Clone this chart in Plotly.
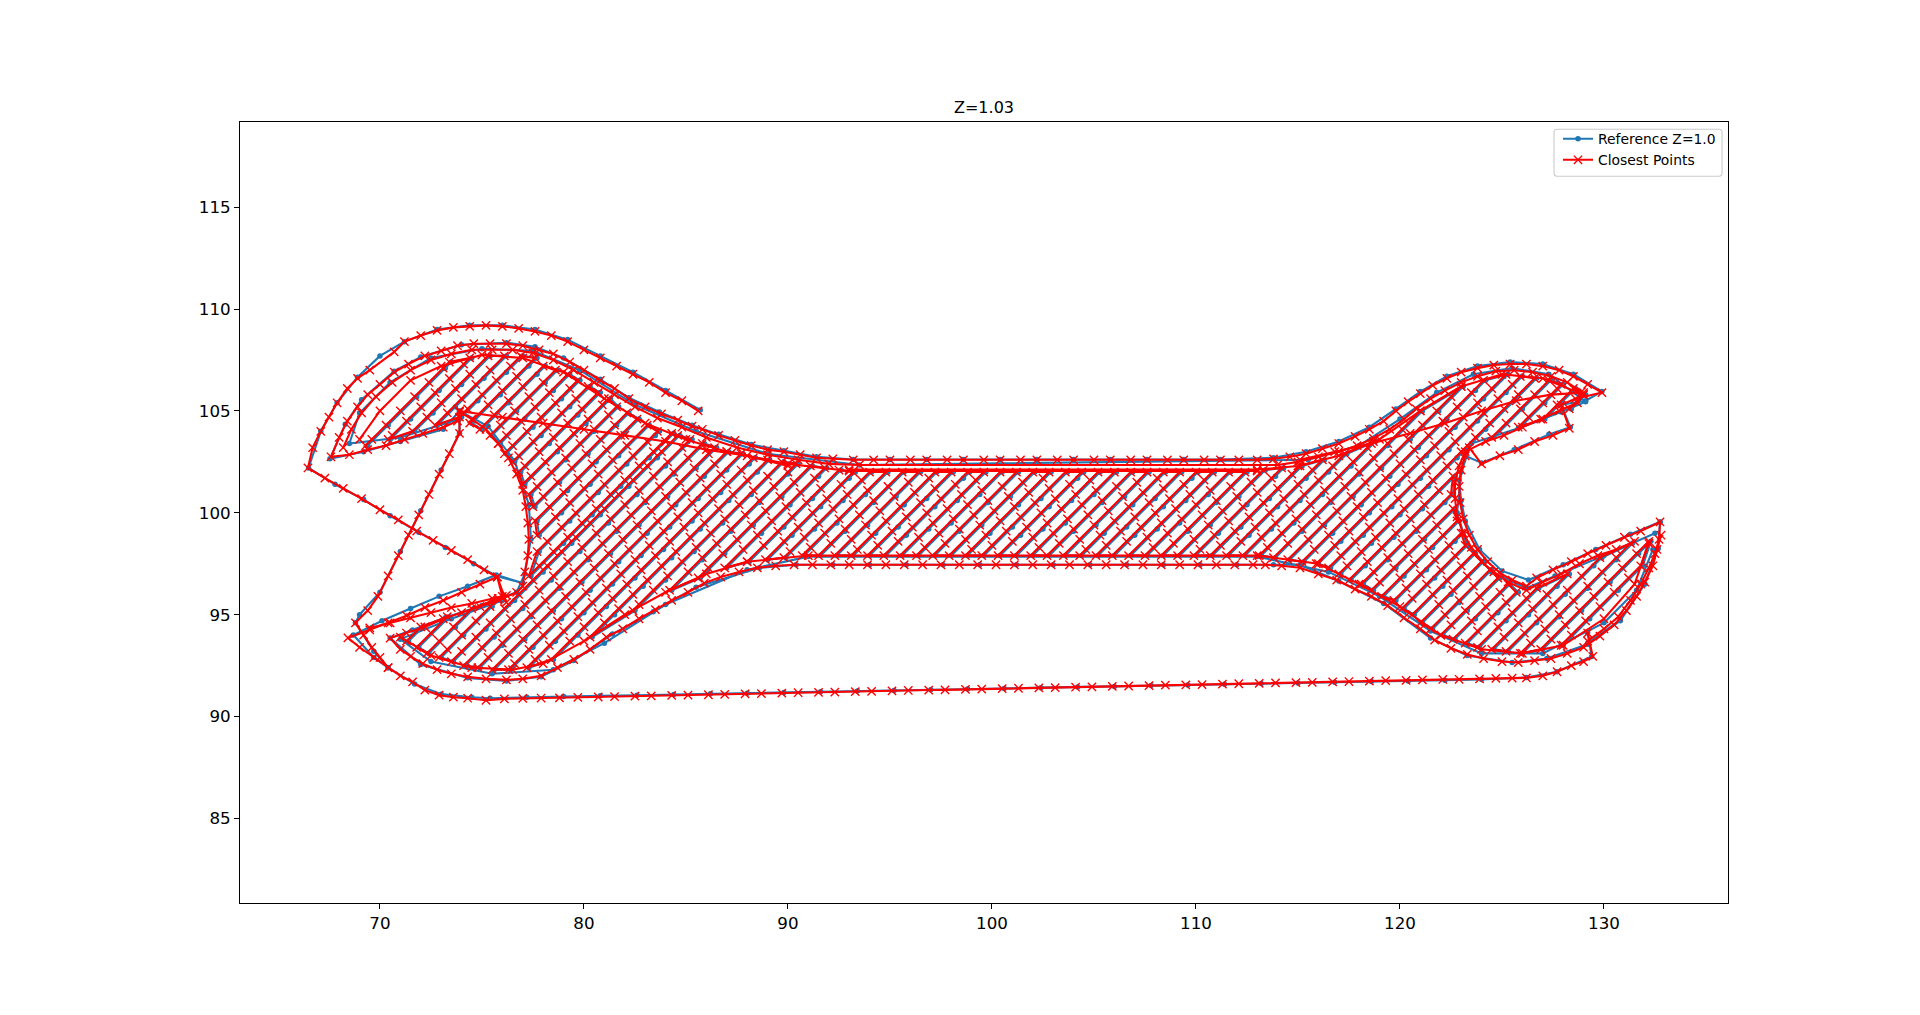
import plotly.graph_objects as go

TITLE = "Z=1.03"
LEGEND_REF = "Reference Z=1.0"
LEGEND_CLOSE = "Closest Points"
X_TICKS = [70, 80, 90, 100, 110, 120, 130]
Y_TICKS = [85, 90, 95, 100, 105, 110, 115]

# ---------- Closest points: contours, each section ----------
close_outer_x = [85.6,84.8,84,83.2,82.4,81.6,80.8,80,79.2,78.4,77.6,76.8,76,75.2,74.4,73.6,72.8,72,71.2,70.7,69.5,68.9,68.4,67.9,67.5,67.1,66.7,66.47,
 67.3,68.2,69.1,70,70.9,71.8,72.6,73.5,74.3,75.1,75.75,76,76.2,75.75,74.9,74,73.1,72.2,71.3,70.4,69.5,68.43,69,69.7,70.4,71,71.6,72.2,72.9,73.6,74.3,75.2,
 76.1,77,77.9,78.8,79.7,80.7,81.5,82.5,83.3,84.3,85.1,86.1,86.9,87.9,88.7,89.7,90.5,91.5,92.3,93.3,94.1,95.1,95.9,96.9,97.7,98.7,99.5,100.5,101.3,102.3,103.1,104.1,104.9,105.9,106.7,107.7,108.5,109.5,110.3,111.3,112.1,113.1,113.9,114.9,115.7,116.7,117.5,118.5,119.3,120.3,121.1,122.1,122.9,123.9,124.7,125.5,126.2,
 127,127.7,128.4,129,129.45,129.2]
close_outer_y = [105,105.5,105.9,106.4,106.8,107.2,107.6,108,108.4,108.7,108.9,109.05,109.15,109.2,109.15,109.1,108.95,108.7,108.4,107.9,107,106.6,106.1,105.4,104.7,104,103.2,102.2,
 101.7,101.2,100.7,100.15,99.65,99.1,98.65,98.15,97.7,97.2,96.85,95.9,95.6,96.85,96.5,96.1,95.7,95.35,94.95,94.6,94.25,93.86,93.4,92.9,92.4,92,91.7,91.3,91.05,90.95,90.9,90.8,
 90.87,90.89,90.91,90.92,90.94,90.96,90.98,91,91.02,91.04,91.05,91.07,91.09,91.11,91.13,91.15,91.17,91.19,91.2,91.22,91.24,91.26,91.28,91.3,91.31,91.33,91.35,91.37,91.39,91.41,91.42,91.44,91.46,91.48,91.5,91.52,91.54,91.55,91.57,91.59,91.61,91.63,91.65,91.67,91.68,91.7,91.72,91.74,91.76,91.78,91.8,91.82,91.83,91.85,91.87,91.89,91.9,
 92,92.2,92.5,92.7,92.95,94.1]

close_ring1_x = [129.2,130,130.7,131.3,131.8,132.2,132.5,132.7,132.75,131.8,131,130.1,129.2,128.4,127.5,126.7,126.2,125.5,124.9,124.3,123.8,123.4,123.1,122.95,122.9,123,123.2,123.4,124,124.9,125.8,126.6,127.5,128.3,127.9,128.6,129.9,
 129.2,128.5,127.8,127,126.2,125.4,124.6,123.8,123,122.3,121.6,121,120.4,119.8,119.2,118.5,117.8,117,116.2,115.4,114.6,113.8,113,
 112.1,111.2,110.4,109.4,108.6,107.6,106.8,105.8,105,104,103.2,102.2,101.4,100.4,99.6,98.6,97.8,96.8,96,95,94.2,93.2,
 92.2,91.4,90.6,89.8,89,88.2,87.4,86.6,85.8,85.3,84.6,83.8,83,82.2,81.5,80.8,80,79.3,78.5,77.8,77,76.2,75.4,74.6,73.8,73,72.2,71.4,70.7,70,69.4,68.9,68.4,68,67.6,
 68.5,69.4,70.3,71.2,72.1,73.1,73.8,73.9,74.5,75.2,75.8,76.3,76.7,77,77.15,77.25,77.3,77.25,77.1,77,76.7,75.8,74.9,74,73.1,72.2,71.3,70.5,
 71,71.5,72.1,72.8,73.5,74.3,75.2,76.2,77,77.9,78.7,79.5,80.3,81.1,81.9,82.7,83.5,84.3,85.1,85.9,86.7,87.6,88.5,89.4,90.3,91.2,
 92.1,93,93.9,94.8,95.7,96.6,97.5,98.4,99.3,100.2,101.1,102,102.9,103.8,104.7,105.6,106.5,107.4,108.3,109.2,110.1,111,111.9,112.8,113.4,
 114.2,115.1,116,116.9,117.8,118.6,119.4,120.2,121,121.7,122.5,123.3,124.1,125,125.8,126.6,127.4,128.2,129,129.8,130.5,131.1,131.6,132,132.4,132.6,132.8]
close_ring1_y = [93.7,94.3,94.9,95.7,96.5,97.3,98,98.7,99.55,99.1,98.8,98.4,98,97.6,97.2,96.8,96.4,96.7,97.05,97.6,98.2,98.9,99.7,100.5,101.3,102.1,102.8,103.2,102.4,102.8,103.1,103.5,103.8,104.15,105.3,105.6,105.9,
 106.3,106.7,107,107.2,107.3,107.3,107.25,107.1,106.9,106.6,106.25,105.85,105.45,105,104.5,104.1,103.75,103.4,103.15,102.9,102.75,102.65,102.6,
 102.6,102.6,102.6,102.6,102.6,102.6,102.6,102.6,102.6,102.6,102.6,102.6,102.6,102.6,102.6,102.6,102.6,102.6,102.6,102.6,102.6,102.6,
 102.65,102.7,102.85,103,103.1,103.3,103.55,103.8,104.1,104.25,104.55,104.85,105.2,105.6,106.1,106.5,107,107.4,107.8,108,108.2,108.3,108.3,108.3,108.2,107.95,107.7,107.3,106.9,106.3,105.8,105.2,104.5,103.7,102.75,
 102.85,103.1,103.3,103.6,103.9,104.2,104.5,104.95,104.6,104.1,103.4,102.7,101.9,101.1,100.3,99.5,98.7,97.9,97.1,96.4,96.1,95.7,95.4,95.1,94.8,94.4,94.1,93.85,
 93.3,92.95,92.6,92.3,92.1,91.95,91.85,91.8,91.85,92,92.4,92.8,93.3,93.9,94.3,94.8,95.25,95.7,96.1,96.55,96.85,97.1,97.3,97.4,97.45,97.45,
 97.45,97.45,97.45,97.45,97.45,97.45,97.45,97.45,97.45,97.45,97.45,97.45,97.45,97.45,97.45,97.45,97.45,97.45,97.45,97.45,97.45,97.45,97.45,97.45,97.45,
 97.4,97.3,97,96.7,96.25,95.9,95.45,94.85,94.3,93.75,93.35,93.05,92.85,92.7,92.65,92.75,92.85,93.1,93.4,93.95,94.5,95.2,95.9,96.6,97.4,98.2,98.9]

close_ring2_x = [131.5,130.6,129.7,128.8,127.9,127,126.2,125.3,124.6,124,123.5,123.1,122.8,122.7,122.7,122.9,123.2,124.2,125.1,126,126.9,127.8,128.7,
 128.9,128.2,127.4,126.5,125.6,124.7,123.8,123,122.2,121.5,120.8,120.2,119.5,118.7,117.9,117,116,115,114,93.5,92,90.5,89,87.5,86,84.8,83.6,82.5,81.5,80.5,79.5,78.5,77.5,76.5,75.5,74.5,73.5,72.5,71.5,70.6,69.8,69.1,68.6,68.2]
close_ring2_y = [98.6,98.2,97.9,97.5,97,96.6,96.2,96.6,97.1,97.6,98.3,99,99.8,100.7,101.5,102.3,103,103.5,103.8,104.2,104.6,105,105.4,
 105.95,106.4,106.7,106.9,107,106.95,106.7,106.4,106,105.6,105.1,104.6,104.1,103.65,103.3,103,102.75,102.5,102.35,102.35,102.4,102.6,102.85,103.2,103.7,104.2,104.65,105.2,105.8,106.4,107,107.5,107.85,108,108,108,107.8,107.5,107,106.4,105.7,104.9,104.1,103.2]

close_inner_top_x = [69,70,71.5,73,75,77,79,81,83,85,87,90,93,113,93,113,115,117,119,121,123,125,127,129]
close_inner_top_y = [103.6,105,106.5,107.2,107.75,107.6,106.9,105.6,104.4,103.6,103,102.4,102.05,102.05,102.12,102.12,102.3,102.8,103.6,105,106.2,106.8,106.6,105.8]
close_inner_bottom_x = [71,72.5,74.5,76.5,78,80,82,84,86,88,91,113,116,118,120,122,124,126,128,130,131.5,132.2]
close_inner_bottom_y = [93.9,93,92.4,92.3,92.6,93.7,95,96.1,97,97.6,97.9,97.9,97.5,96.5,95.4,94,93.3,93.1,93.5,94.8,96.5,98.5]

close_strut_x = [73.9,73.9,73.4,72.9,72.4,71.9,71.4,70.9,70.4,69.9,69.4,68.8,69.2,69.6,70,70.4]
close_strut_y = [105,103.9,102.9,101.9,100.9,99.9,98.9,97.9,96.9,95.9,95.2,94.6,94,93.4,92.9,92.4]
close_jaw_x = [69.5,70.5,71.5,72.5,73.5,74.5,75.5,76.2]
close_jaw_y = [94.35,94.6,94.85,95.1,95.35,95.55,95.8,95.95]
close_cross_left_x = [73.9,76,78,80,82,84,86,88,90]
close_cross_left_y = [105,104.7,104.4,104.1,103.8,103.5,103.1,102.8,102.3]
close_cross_right_x = [115.1,116.8,118.6,120.5,122.2,124,125.7,127.4,129]
close_cross_right_y = [102.6,103,103.4,103.9,104.4,105,105.5,105.8,105.9]

# ---------- Closest points: hatch strands ----------
close_hatch_upper_x = [
[69.3,69.6,70.3,71,71.7,72.4,73.1,73.4],[70.4,70.6,71.3,72,72.7,73.4,74.1,74.4],[71.6,72.3,73,73.7,74.4,75.3],[72.7,73.3,74,74.7,75.4,76.1],[73.9,74.3,75,75.7,76.4,76.9],
[74.4,75.3,76,76.7,77.6],[74.9,75.6,76.3,77,78],[75.4,75.9,76.6,77.3,78,78.6],[75.8,76.2,76.9,77.6,78.3,79.2],[76.1,76.5,77.2,77.9,78.6,79.3,79.7],
[76.5,76.8,77.5,78.2,78.9,79.6,80.2],[76.8,77.1,77.8,78.5,79.2,79.9,80.7],[77,77.4,78.1,78.8,79.5,80.2,80.9,81.2],[77.3,77.7,78.4,79.1,79.8,80.5,81.2,81.6],[77.5,78,78.7,79.4,80.1,80.8,81.5,82.1],
[77.6,78.3,79,79.7,80.4,81.1,81.8,82.6],[77.7,78.6,79.3,80,80.7,81.4,82.1,83.1],[77.7,78.2,78.9,79.6,80.3,81,81.7,82.4,83.1,83.6],[77.3,77.8,78.5,79.2,79.9,80.6,81.3,82,82.7,83.4,84.3]]
close_hatch_upper_y = [
[103.3,103.6,104.3,105,105.7,106.4,107.1,107.4],[103.6,103.8,104.5,105.2,105.9,106.6,107.3,107.6],[104,104.7,105.4,106.1,106.8,107.7],[104.3,104.9,105.6,106.3,107,107.7],[104.7,105.1,105.8,106.5,107.2,107.7],
[104.4,105.3,106,106.7,107.6],[104.1,104.8,105.5,106.2,107.2],[103.8,104.3,105,105.7,106.4,107],[103.4,103.8,104.5,105.2,105.9,106.8],[102.9,103.3,104,104.7,105.4,106.1,106.5],
[102.5,102.8,103.5,104.2,104.9,105.6,106.2],[102,102.3,103,103.7,104.4,105.1,105.9],[101.4,101.8,102.5,103.2,103.9,104.6,105.3,105.6],[100.9,101.3,102,102.7,103.4,104.1,104.8,105.2],[100.3,100.8,101.5,102.2,102.9,103.6,104.3,104.9],
[99.6,100.3,101,101.7,102.4,103.1,103.8,104.6],[98.9,99.8,100.5,101.2,101.9,102.6,103.3,104.3],[98.1,98.6,99.3,100,100.7,101.4,102.1,102.8,103.5,104],[96.9,97.4,98.1,98.8,99.5,100.2,100.9,101.6,102.3,103,103.9]]

close_hatch_main_x = [
[71.3,72],[71.8,72.5,73.3],[72.3,72.9,73.6,74.5],[72.9,73.3,74,74.7,75.4,75.8],
[73.5,74,74.7,75.4,76.1,76.8,77.5,78.2,78.9,79.6,80.3,81,81.7,82.4,83.1,83.8,84.6],
[74.1,75,75.7,76.4,77.1,77.8,78.5,79.2,79.9,80.6,81.3,82,82.7,83.4,84.1,84.8,85.2],
[74.8,75.3,76,76.7,77.4,78.1,78.8,79.5,80.2,80.9,81.6,82.3,83,83.7,84.4,85.1,85.8],
[75.5,76.3,77,77.7,78.4,79.1,79.8,80.5,81.2,81.9,82.6,83.3,84,84.7,85.4,86.1,86.4],
[76.3,76.6,77.3,78,78.7,79.4,80.1,80.8,81.5,82.2,82.9,83.6,84.3,85,85.7,86.4,87],
[77.2,77.6,78.3,79,79.7,80.4,81.1,81.8,82.5,83.2,83.9,84.6,85.3,86,86.7,87.7],
[78.4,79.3,80,80.7,81.4,82.1,82.8,83.5,84.2,84.9,85.6,86.3,87,87.7,88.3],
[80.3,81,81.7,82.4,83.1,83.8,84.5,85.2,85.9,86.6,87.3,88,89],
[82.4,82.7,83.4,84.1,84.8,85.5,86.2,86.9,87.6,88.3,89,89.7],
[84.2,85.1,85.8,86.5,87.2,87.9,88.6,89.3,90,90.4],
[85.6,86.1,86.8,87.5,88.2,88.9,89.6,90.3,91.1],
[86.9,87.8,88.5,89.2,89.9,90.6,91.3,91.8],
[88,88.8,89.5,90.2,90.9,91.6,92.5],
[88.9,89.8,90.5,91.2,91.9,92.6,93.2],
[89.8,90.1,90.8,91.5,92.2,92.9,93.6,94],
[90.7,91.1,91.8,92.5,93.2,93.9,94.8],
[91.5,92.1,92.8,93.5,94.2,94.9,95.6],
[92.3,93.1,93.8,94.5,95.2,95.9,96.4],
[93.1,93.4,94.1,94.8,95.5,96.2,96.9,97.2],
[93.9,94.4,95.1,95.8,96.5,97.2,98],
[94.7,95.4,96.1,96.8,97.5,98.2,98.8],
[95.5,96.4,97.1,97.8,98.5,99.2,99.6],
[96.3,96.7,97.4,98.1,98.8,99.5,100.4],
[97.1,97.7,98.4,99.1,99.8,100.5,101.2],
[97.9,98.7,99.4,100.1,100.8,101.5,102],
[98.7,99,99.7,100.4,101.1,101.8,102.5,102.8],
[99.5,100,100.7,101.4,102.1,102.8,103.6],
[100.3,101,101.7,102.4,103.1,103.8,104.4],
[101.1,102,102.7,103.4,104.1,104.8,105.2],
[101.9,102.3,103,103.7,104.4,105.1,106],
[102.7,103.3,104,104.7,105.4,106.1,106.8],
[103.5,104.3,105,105.7,106.4,107.1,107.6],
[104.3,104.6,105.3,106,106.7,107.4,108.1,108.4],
[105.1,105.6,106.3,107,107.7,108.4,109.2],
[105.9,106.6,107.3,108,108.7,109.4,110],
[106.7,107.6,108.3,109,109.7,110.4,110.8],
[107.5,107.9,108.6,109.3,110,110.7,111.6],
[108.3,108.9,109.6,110.3,111,111.7,112.4],
[109.1,109.9,110.6,111.3,112,112.7,113.3],
[109.9,110.2,110.9,111.6,112.3,113,113.7,114.2],
[110.7,111.2,111.9,112.6,113.3,114,114.7,115.1],
[111.5,112.2,112.9,113.6,114.3,115,115.7,116.2],
[112.3,113.2,113.9,114.6,115.3,116,116.7,117.3],
[113.1,113.5,114.2,114.9,115.6,116.3,117,117.7,118.4,118.7],
[113.8,114.5,115.2,115.9,116.6,117.3,118,118.7,119.4,120.1,121],
[114.5,115.5,116.2,116.9,117.6,118.3,119,119.7,120.4,121.1,121.8,122.5,123],
[115.2,115.8,116.5,117.2,117.9,118.6,119.3,120,120.7,121.4,122.1,122.8,123.5,124.1],
[115.9,116.8,117.5,118.2,118.9,119.6,120.3,121,121.7,122.4,123.1,123.8,124.5,125.2],
[116.5,117.1,117.8,118.5,119.2,119.9,120.6,121.3,122,122.7,123.4,124.1,124.8,125.5,125.9],
[117,117.4,118.1,118.8,119.5,120.2,120.9,121.6,122.3,123,123.7,124.4,125.1,125.8,126.6]]
close_hatch_main_y = [
[93.7,94.4],[93.4,94.1,94.9],[93.1,93.7,94.4,95.3],[92.9,93.3,94,94.7,95.4,95.8],
[92.7,93.2,93.9,94.6,95.3,96,96.7,97.4,98.1,98.8,99.5,100.2,100.9,101.6,102.3,103,103.8],
[92.5,93.4,94.1,94.8,95.5,96.2,96.9,97.6,98.3,99,99.7,100.4,101.1,101.8,102.5,103.2,103.6],
[92.4,92.9,93.6,94.3,95,95.7,96.4,97.1,97.8,98.5,99.2,99.9,100.6,101.3,102,102.7,103.4],
[92.3,93.1,93.8,94.5,95.2,95.9,96.6,97.3,98,98.7,99.4,100.1,100.8,101.5,102.2,102.9,103.2],
[92.3,92.6,93.3,94,94.7,95.4,96.1,96.8,97.5,98.2,98.9,99.6,100.3,101,101.7,102.4,103],
[92.4,92.8,93.5,94.2,94.9,95.6,96.3,97,97.7,98.4,99.1,99.8,100.5,101.2,101.9,102.9],
[92.8,93.7,94.4,95.1,95.8,96.5,97.2,97.9,98.6,99.3,100,100.7,101.4,102.1,102.7],
[93.9,94.6,95.3,96,96.7,97.4,98.1,98.8,99.5,100.2,100.9,101.6,102.6],
[95.2,95.5,96.2,96.9,97.6,98.3,99,99.7,100.4,101.1,101.8,102.5],
[96.2,97.1,97.8,98.5,99.2,99.9,100.6,101.3,102,102.4],
[96.8,97.3,98,98.7,99.4,100.1,100.8,101.5,102.3],
[97.3,98.2,98.9,99.6,100.3,101,101.7,102.2],
[97.6,98.4,99.1,99.8,100.5,101.2,102.1],
[97.7,98.6,99.3,100,100.7,101.4,102],
[97.8,98.1,98.8,99.5,100.2,100.9,101.6,102],
[97.9,98.3,99,99.7,100.4,101.1,102],
[97.9,98.5,99.2,99.9,100.6,101.3,102],
[97.9,98.7,99.4,100.1,100.8,101.5,102],
[97.9,98.2,98.9,99.6,100.3,101,101.7,102],
[97.9,98.4,99.1,99.8,100.5,101.2,102],
[97.9,98.6,99.3,100,100.7,101.4,102],
[97.9,98.8,99.5,100.2,100.9,101.6,102],
[97.9,98.3,99,99.7,100.4,101.1,102],
[97.9,98.5,99.2,99.9,100.6,101.3,102],
[97.9,98.7,99.4,100.1,100.8,101.5,102],
[97.9,98.2,98.9,99.6,100.3,101,101.7,102],
[97.9,98.4,99.1,99.8,100.5,101.2,102],
[97.9,98.6,99.3,100,100.7,101.4,102],
[97.9,98.8,99.5,100.2,100.9,101.6,102],
[97.9,98.3,99,99.7,100.4,101.1,102],
[97.9,98.5,99.2,99.9,100.6,101.3,102],
[97.9,98.7,99.4,100.1,100.8,101.5,102],
[97.9,98.2,98.9,99.6,100.3,101,101.7,102],
[97.9,98.4,99.1,99.8,100.5,101.2,102],
[97.9,98.6,99.3,100,100.7,101.4,102],
[97.9,98.8,99.5,100.2,100.9,101.6,102],
[97.9,98.3,99,99.7,100.4,101.1,102],
[97.9,98.5,99.2,99.9,100.6,101.3,102],
[97.9,98.7,99.4,100.1,100.8,101.5,102.1],
[97.9,98.2,98.9,99.6,100.3,101,101.7,102.2],
[97.9,98.4,99.1,99.8,100.5,101.2,101.9,102.3],
[97.9,98.6,99.3,100,100.7,101.4,102.1,102.6],
[97.9,98.8,99.5,100.2,100.9,101.6,102.3,102.9],
[97.9,98.3,99,99.7,100.4,101.1,101.8,102.5,103.2,103.5],
[97.8,98.5,99.2,99.9,100.6,101.3,102,102.7,103.4,104.1,105],
[97.7,98.7,99.4,100.1,100.8,101.5,102.2,102.9,103.6,104.3,105,105.7,106.2],
[97.6,98.2,98.9,99.6,100.3,101,101.7,102.4,103.1,103.8,104.5,105.2,105.9,106.5],
[97.5,98.4,99.1,99.8,100.5,101.2,101.9,102.6,103.3,104,104.7,105.4,106.1,106.8],
[97.3,97.9,98.6,99.3,100,100.7,101.4,102.1,102.8,103.5,104.2,104.9,105.6,106.3,106.7],
[97,97.4,98.1,98.8,99.5,100.2,100.9,101.6,102.3,103,103.7,104.4,105.1,105.8,106.6]]

close_hatch_lower_right_x = [
[117.5,118.4,119.1,119.8,120.5,121.2,121.9,122.6],[118.1,118.7,119.4,120.1,120.8,121.5,122.5],[118.6,119,119.7,120.4,121.1,121.8,122.6],[119.1,120,120.7,121.4,122.1,122.8],
[119.7,120.3,121,121.7,122.4,123],[120.1,120.6,121.3,122,122.7,123.2],[120.6,121.6,122.3,123,123.6],[121,121.9,122.6,123.3,124],[121.5,122.2,122.9,123.6,124.4],[122,122.5,123.2,123.9,124.8],
[122.6,123.5,124.2,124.9,125.3],[123.2,123.8,124.5,125.2,125.7],[123.8,124.8,125.5,126.2,126.7],[124.5,125.1,125.8,126.5,127.2,128.2],[125.2,126.1,126.8,127.5,128.2,128.9,129.8],
[125.9,126.4,127.1,127.8,128.5,129.2,129.9,130.6,131.3],[126.9,127.4,128.1,128.8,129.5,130.2,130.9,131.6,132.2],[127.9,128.4,129.1,129.8,130.5,131.2,131.8]]
close_hatch_lower_right_y = [
[96.7,97.6,98.3,99,99.7,100.4,101.1,101.8],[96.5,97.1,97.8,98.5,99.2,99.9,100.9],[96.2,96.6,97.3,98,98.7,99.4,100.2],[95.9,96.8,97.5,98.2,98.9,99.6],
[95.7,96.3,97,97.7,98.4,99],[95.3,95.8,96.5,97.2,97.9,98.4],[95,96,96.7,97.4,98],[94.6,95.5,96.2,96.9,97.6],[94.3,95,95.7,96.4,97.2],[94,94.5,95.2,95.9,96.8],
[93.8,94.7,95.4,96.1,96.5],[93.6,94.2,94.9,95.6,96.1],[93.4,94.4,95.1,95.8,96.3],[93.3,93.9,94.6,95.3,96,97],[93.2,94.1,94.8,95.5,96.2,96.9,97.8],
[93.1,93.6,94.3,95,95.7,96.4,97.1,97.8,98.5],[93.3,93.8,94.5,95.2,95.9,96.6,97.3,98,98.6],[93.5,94,94.7,95.4,96.1,96.8,97.4]]

close_hatch_upper_right_x = [[124.5,125.2,125.9,126.6,127.3],[125.8,126.3,127,127.7,127.9],[127,127.7,128.5],[128.3,129]]
close_hatch_upper_right_y = [[103.7,104.4,105.1,105.8,106.5],[104.2,104.7,105.4,106.1,106.3],[104.6,105.3,106.1],[105.1,105.8]]

# ---------- Reference Z=1.0: contours ----------
ref_outer_x = [85.7,84,82.4,80.8,79.2,77.6,76,74.4,72.8,71.2,70,68.9,67.9,67.1,66.5,67.8,69.2,70.5,71.9,73.2,74.6,75.7,77,75.7,74.3,72.9,71.5,70.1,68.7,
 69.7,70.4,71.7,73,74.5,75.4,77.2,79,80.8,82.6,84.4,86.2,88,89.8,91.6,93.4,95.2,97,98.8,100.6,102.4,104.2,106,107.8,109.6,111.4,113.2,115,116.8,118.6,120.4,122.2,124,126.2,127.7,129.4,129.2]
ref_outer_y = [105.05,106,106.9,107.7,108.5,109,109.2,109.2,109,108.4,107.7,106.65,105.4,104,102.2,101.4,100.65,99.85,99.05,98.3,97.5,96.9,96.55,96.95,96.4,95.9,95.3,94.7,94,
 92.9,92.4,91.6,91.1,90.95,90.9,90.95,90.98,91.02,91.05,91.08,91.12,91.15,91.18,91.22,91.25,91.28,91.32,91.35,91.38,91.42,91.45,91.48,91.52,91.55,91.58,91.62,91.65,91.68,91.72,91.75,91.78,91.82,91.92,92.2,92.95,94.1]
ref_ring1_x = [129.2,130.8,132,132.65,132.75,131.3,129.6,128,126.3,125,123.9,123.2,123,122.9,123.2,124,125.6,127.3,128.35,127.9,129.1,129.9,
 128.5,127,125.4,123.8,122.3,121,119.8,118.5,117,115.4,113.8,111.2,109.4,107.6,105.8,104,102.2,100.4,98.6,96.8,95,93.2,91.4,89.8,88.2,86.6,85.3,83.7,82.2,80.8,79,77.6,76.2,74,72,70.7,69.1,68.3,67.55,
 69.2,71,73.1,73.9,75.3,76.6,77.3,77.4,77.1,76.7,75,73.2,71.6,70.5,72,74.3,76.2,77.9,79.5,81.4,83.4,85.5,88.6,90.4,92.2,94,95.8,97.6,99.4,101.2,103,104.8,106.6,108.4,110.2,112,113.8,115.1,117,119.2,121.5,123.3,125.5,127.2,129.2,130.8,132,132.65,132.75]
ref_ring1_y = [93.6,94.75,96.5,98.25,99.55,98.95,98.2,97.45,96.7,97.15,98.2,99.6,100.6,101.6,102.8,102.45,103.1,103.85,104.2,105.3,105.5,105.95,
 106.8,107.3,107.4,107.2,106.7,105.95,105.1,104.2,103.5,103,102.7,102.62,102.62,102.62,102.62,102.62,102.62,102.62,102.62,102.62,102.62,102.62,102.75,103.05,103.35,103.85,104.3,104.95,105.65,106.55,107.6,108.15,108.35,108.25,107.65,106.95,105.55,104.35,102.65,
 103,103.5,104.1,105,104.25,102.55,100.4,98.7,97,96.1,95.45,94.85,94.25,93.85,92.55,91.9,91.75,91.95,92.75,94.05,95.15,96.35,97.3,97.45,97.45,97.45,97.45,97.45,97.45,97.45,97.45,97.45,97.45,97.45,97.45,97.45,97.45,97.45,96.65,95.55,93.85,93,92.65,92.85,93.55,94.7,96.5,98.25,99.55]
ref_ring2_x = [132.5,130,127.6,126.2,124.5,123.3,122.8,123,123.5,125.8,127.9,129.1,127.3,125.5,123.6,121.8,120,118,115.5,93.5,89,85.5,82.5,79.8,77.5,75,72.5,70.5,69,68.5,71,73.9]
ref_ring2_y = [99,97.9,96.9,96.3,97.1,98.4,100,102,103.4,104.15,104.95,105.45,106.8,107.1,106.8,105.9,104.6,103.3,102.6,102.35,102.9,104,105.3,107,107.95,108.05,107.6,106.4,104.9,103.4,103.7,104.6]
ref_ring3_x = [76,73.5,71,72.5,75.5,78.5,81,84,88,91,113,116.5,119,121.5,124,127,130,131.6,132.4]
ref_ring3_y = [95.7,94.8,93.8,92.7,92.1,92.3,93.6,95.5,97.2,97.85,97.85,97.1,95.9,94.2,93.1,93.1,94.6,96.2,98.2]
ref_strut_x = [73.9,73.9,73,72,71,70,69,68.8,69.7,70.4]
ref_strut_y = [105,103.9,102.1,100.1,98.1,96.1,95,94.6,93.2,92.4]

# ---------- Reference Z=1.0: hatch strands ----------
ref_hatch_upper_x = [
[69.4,70.4,71.8,73.2,73.5],[70.5,71.5,72.9,74.5],[71.7,72.6,74,75.4],[72.8,73.7,75.1,76.2],[74,74.8,76.2,77],[74.5,75.9,77.3,77.7],[75,76.3,77.7,78.1],[75.5,76.7,78.1,78.7],[75.9,77.1,78.5,79.3],[76.2,77.5,78.9,79.8],
[76.6,77.9,79.3,80.3],[76.9,78.3,79.7,80.8],[77.1,78.7,80.1,81.3],[77.4,79.1,80.5,81.7],[77.6,78.8,80.2,81.6,82.2],[77.7,79.2,80.6,82,82.7],[77.8,78.9,80.3,81.7,83.2],[77.8,79.3,80.7,82.1,83.5,83.7],[77.4,79,80.4,81.8,83.2,84.4]]
ref_hatch_upper_y = [
[103.3,104.3,105.7,107.1,107.4],[103.6,104.6,106,107.6],[104,104.9,106.3,107.7],[104.3,105.2,106.6,107.7],[104.7,105.5,106.9,107.7],[104.4,105.8,107.2,107.6],[104.1,105.4,106.8,107.2],[103.8,105,106.4,107],[103.4,104.6,106,106.8],[102.9,104.2,105.6,106.5],
[102.5,103.8,105.2,106.2],[102,103.4,104.8,105.9],[101.4,103,104.4,105.6],[100.9,102.6,104,105.2],[100.3,101.5,102.9,104.3,104.9],[99.6,101.1,102.5,103.9,104.6],[98.9,100,101.4,102.8,104.3],[98.1,99.6,101,102.4,103.8,104],[96.9,98.5,99.9,101.3,102.7,103.9]]

ref_hatch_main_x = [
[71.4,72.1],[71.9,73.4],[72.4,73.7,74.6],[73,74.1,75.5,75.9],[73.6,75.2,76.6,78,79.4,80.8,82.2,83.6,84.7],[74.2,75.6,77,78.4,79.8,81.2,82.6,84,85.3],[74.9,76,77.4,78.8,80.2,81.6,83,84.4,85.9],[75.6,77.1,78.5,79.9,81.3,82.7,84.1,85.5,86.5],[76.4,77.5,78.9,80.3,81.7,83.1,84.5,85.9,87.1],[77.3,78.6,80,81.4,82.8,84.2,85.6,87,87.8],
[78.5,79.7,81.1,82.5,83.9,85.3,86.7,88.1,88.4],[80.4,81.5,82.9,84.3,85.7,87.1,88.5,89.1],[82.5,84,85.4,86.8,88.2,89.8],[84.3,85.8,87.2,88.6,90,90.5],[85.7,86.9,88.3,89.7,91.2],[87,88.7,90.1,91.5,91.9],[88.1,89.8,91.2,92.6],[89,90.2,91.6,93,93.3],[89.9,91.3,92.7,94.1],[90.8,92.4,93.8,94.9],
[91.6,92.8,94.2,95.7],[92.4,93.9,95.3,96.5],[93.2,94.3,95.7,97.3],[94,95.4,96.8,98.1],[94.8,95.8,97.2,98.6,98.9],[95.6,96.9,98.3,99.7],[96.4,98,99.4,100.5],[97.2,98.4,99.8,101.3],[98,99.5,100.9,102.1],[98.8,99.9,101.3,102.9],
[99.6,101,102.4,103.7],[100.4,101.4,102.8,104.2,104.5],[101.2,102.5,103.9,105.3],[102,103.6,105,106.1],[102.8,104,105.4,106.9],[103.6,105.1,106.5,107.7],[104.4,105.5,106.9,108.5],[105.2,106.6,108,109.3],[106,107,108.4,109.8,110.1],[106.8,108.1,109.5,110.9],
[107.6,109.2,110.6,111.7],[108.4,109.6,111,112.5],[109.2,110.7,112.1,113.4],[110,111.1,112.5,113.9,114.3],[110.8,112.2,113.6,115.2],[111.6,112.6,114,115.4,116.3],[112.4,113.7,115.1,116.5,117.4],[113.2,114.8,116.2,117.6,118.8],[113.9,115.2,116.6,118,119.4,121.1],[114.6,116.3,117.7,119.1,120.5,121.9,123.1],
[115.3,116.7,118.1,119.5,120.9,122.3,123.7,124.2],[116,117.1,118.5,119.9,121.3,122.7,124.1,125.3],[116.6,118.2,119.6,121,122.4,123.8,125.2,126],[117.1,118.6,120,121.4,122.8,124.2,125.6,126.7]]
ref_hatch_main_y = [
[93.7,94.4],[93.4,94.9],[93.1,94.4,95.3],[92.9,94,95.4,95.8],[92.7,94.3,95.7,97.1,98.5,99.9,101.3,102.7,103.8],[92.5,93.9,95.3,96.7,98.1,99.5,100.9,102.3,103.6],[92.4,93.5,94.9,96.3,97.7,99.1,100.5,101.9,103.4],[92.3,93.8,95.2,96.6,98,99.4,100.8,102.2,103.2],[92.3,93.4,94.8,96.2,97.6,99,100.4,101.8,103],[92.4,93.7,95.1,96.5,97.9,99.3,100.7,102.1,102.9],
[92.8,94,95.4,96.8,98.2,99.6,101,102.4,102.7],[93.9,95,96.4,97.8,99.2,100.6,102,102.6],[95.2,96.7,98.1,99.5,100.9,102.5],[96.2,97.7,99.1,100.5,101.9,102.4],[96.8,98,99.4,100.8,102.3],[97.3,99,100.4,101.8,102.2],[97.6,99.3,100.7,102.1],[97.7,98.9,100.3,101.7,102],[97.8,99.2,100.6,102],[97.9,99.5,100.9,102],
[97.9,99.1,100.5,102],[97.9,99.4,100.8,102],[97.9,99,100.4,102],[97.9,99.3,100.7,102],[97.9,98.9,100.3,101.7,102],[97.9,99.2,100.6,102],[97.9,99.5,100.9,102],[97.9,99.1,100.5,102],[97.9,99.4,100.8,102],[97.9,99,100.4,102],
[97.9,99.3,100.7,102],[97.9,98.9,100.3,101.7,102],[97.9,99.2,100.6,102],[97.9,99.5,100.9,102],[97.9,99.1,100.5,102],[97.9,99.4,100.8,102],[97.9,99,100.4,102],[97.9,99.3,100.7,102],[97.9,98.9,100.3,101.7,102],[97.9,99.2,100.6,102],
[97.9,99.5,100.9,102],[97.9,99.1,100.5,102],[97.9,99.4,100.8,102.1],[97.9,99,100.4,101.8,102.2],[97.9,99.3,100.7,102.3],[97.9,98.9,100.3,101.7,102.6],[97.9,99.2,100.6,102,102.9],[97.9,99.5,100.9,102.3,103.5],[97.8,99.1,100.5,101.9,103.3,105],[97.7,99.4,100.8,102.2,103.6,105,106.2],
[97.6,99,100.4,101.8,103.2,104.6,106,106.5],[97.5,98.6,100,101.4,102.8,104.2,105.6,106.8],[97.3,98.9,100.3,101.7,103.1,104.5,105.9,106.7],[97,98.5,99.9,101.3,102.7,104.1,105.5,106.6]]

ref_hatch_lower_right_x = [
[117.6,118.3,119.7,121.1,122.7],[118.2,119.4,120.8,122.2,122.6],[118.7,119.8,121.2,122.7],[119.2,120.2,121.6,122.9],[119.8,121.3,122.7,123.1],[120.2,121.7,123.3],[120.7,122.1,123.7],[121.1,122.5,124.1],[121.6,122.9,124.5],
[122.1,123.3,124.9],[122.7,123.7,125.4],[123.3,124.8,125.8],[123.9,125.2,126.8],[124.6,126.3,127.7,128.3],[125.3,126.7,128.1,129.5,129.9],[126,127.8,129.2,130.6,131.4],[127,128.9,130.3,131.7,132.3],[128,129.3,130.7,131.9]]
ref_hatch_lower_right_y = [
[96.7,97.4,98.8,100.2,101.8],[96.5,97.7,99.1,100.5,100.9],[96.2,97.3,98.7,100.2],[95.9,96.9,98.3,99.6],[95.7,97.2,98.6,99],[95.3,96.8,98.4],[95,96.4,98],[94.6,96,97.6],[94.3,95.6,97.2],
[94,95.2,96.8],[93.8,94.8,96.5],[93.6,95.1,96.1],[93.4,94.7,96.3],[93.3,95,96.4,97],[93.2,94.6,96,97.4,97.8],[93.1,94.9,96.3,97.7,98.5],[93.3,95.2,96.6,98,98.6],[93.5,94.8,96.2,97.4]]

ref_hatch_upper_right_x = [[124.6,126,127.4],[125.9,127.1,128],[127.1,128.6],[128.4,129.1]]
ref_hatch_upper_right_y = [[103.7,105.1,106.5],[104.2,105.4,106.3],[104.6,106.1],[105.1,105.8]]


def zigzag(xs, ys):
    """Join strands into one path, alternating travel direction."""
    ox, oy = [], []
    for i, (sx, sy) in enumerate(zip(xs, ys)):
        if i % 2:
            sx, sy = sx[::-1], sy[::-1]
        ox += sx
        oy += sy
    return ox, oy


def join(*parts):
    ox, oy = [], []
    for px, py in parts:
        ox += list(px) + [None]
        oy += list(py) + [None]
    return ox, oy


ref_x, ref_y = join(
    (ref_outer_x, ref_outer_y), (ref_ring1_x, ref_ring1_y), (ref_ring2_x, ref_ring2_y), (ref_ring3_x, ref_ring3_y),
    (ref_strut_x, ref_strut_y),
    zigzag(ref_hatch_upper_x, ref_hatch_upper_y), zigzag(ref_hatch_main_x, ref_hatch_main_y),
    zigzag(ref_hatch_lower_right_x, ref_hatch_lower_right_y), zigzag(ref_hatch_upper_right_x, ref_hatch_upper_right_y))

close_x, close_y = join(
    (close_outer_x, close_outer_y), (close_ring1_x, close_ring1_y), (close_ring2_x, close_ring2_y),
    (close_inner_top_x, close_inner_top_y), (close_inner_bottom_x, close_inner_bottom_y),
    (close_strut_x, close_strut_y), (close_jaw_x, close_jaw_y),
    (close_cross_left_x, close_cross_left_y), (close_cross_right_x, close_cross_right_y),
    zigzag(close_hatch_upper_x, close_hatch_upper_y), zigzag(close_hatch_main_x, close_hatch_main_y),
    zigzag(close_hatch_lower_right_x, close_hatch_lower_right_y), zigzag(close_hatch_upper_right_x, close_hatch_upper_right_y))

FONT = "DejaVu Sans"
fig = go.Figure()
fig.add_trace(go.Scatter(x=ref_x, y=ref_y, mode="lines+markers", name=LEGEND_REF, connectgaps=False,
                         line=dict(color="#1f77b4", width=2.08),
                         marker=dict(symbol="circle", size=5.5, color="#1f77b4")))
fig.add_trace(go.Scatter(x=close_x, y=close_y, mode="lines+markers", name=LEGEND_CLOSE, connectgaps=False,
                         line=dict(color="#ff0000", width=2.08),
                         marker=dict(symbol="x-thin", size=8.3, color="#ff0000",
                                     line=dict(color="#ff0000", width=1.4))))
axis = dict(showgrid=False, zeroline=False, showline=True, mirror=True, linecolor="black", linewidth=1.1,
            ticks="outside", ticklen=4.9, tickwidth=1.1, tickcolor="black",
            tickfont=dict(family=FONT, size=16.7, color="black"))
# legend frame with rounded corners, in axes fractions
lx0, lx1, ly0, ly1, rx, ry = 0.8831, 0.9960, 0.9306, 0.9908, 0.002, 0.0038
frame = (f"M {lx0+rx},{ly0} L {lx1-rx},{ly0} Q {lx1},{ly0} {lx1},{ly0+ry} L {lx1},{ly1-ry} Q {lx1},{ly1} {lx1-rx},{ly1} "
         f"L {lx0+rx},{ly1} Q {lx0},{ly1} {lx0},{ly1-ry} L {lx0},{ly0+ry} Q {lx0},{ly0} {lx0+rx},{ly0} Z")
fig.update_layout(
    width=1920, height=1015, autosize=False,
    margin=dict(l=240, r=192, t=122, b=112, pad=0),
    plot_bgcolor="white", paper_bgcolor="white",
    font=dict(family=FONT, color="black"),
    title=dict(text=TITLE, x=0.5, xref="paper", xanchor="center", y=1, yref="paper", yanchor="bottom",
               pad=dict(b=9), font=dict(family=FONT, size=16, color="black")),
    xaxis=dict(axis, range=[63.14, 136.08], tickvals=X_TICKS, ticktext=[str(v) for v in X_TICKS]),
    yaxis=dict(axis, range=[80.85, 119.18], tickvals=Y_TICKS, ticktext=[str(v) for v in Y_TICKS]),
    legend=dict(x=0.9953, y=0.9985, xanchor="right", yanchor="top", bgcolor="rgba(0,0,0,0)",
                borderwidth=0, font=dict(family=FONT, size=13.9, color="black"),
                itemwidth=30, tracegroupgap=2),
    shapes=[dict(type="path", xref="paper", yref="paper", path=frame, layer="below",
                 line=dict(color="#cccccc", width=1.1), fillcolor="white")],
    hovermode=False,
)
fig.write_html("out.html", config={"displayModeBar": False},
               post_script="document.body.style.margin='0';document.documentElement.style.overflow='hidden';")
